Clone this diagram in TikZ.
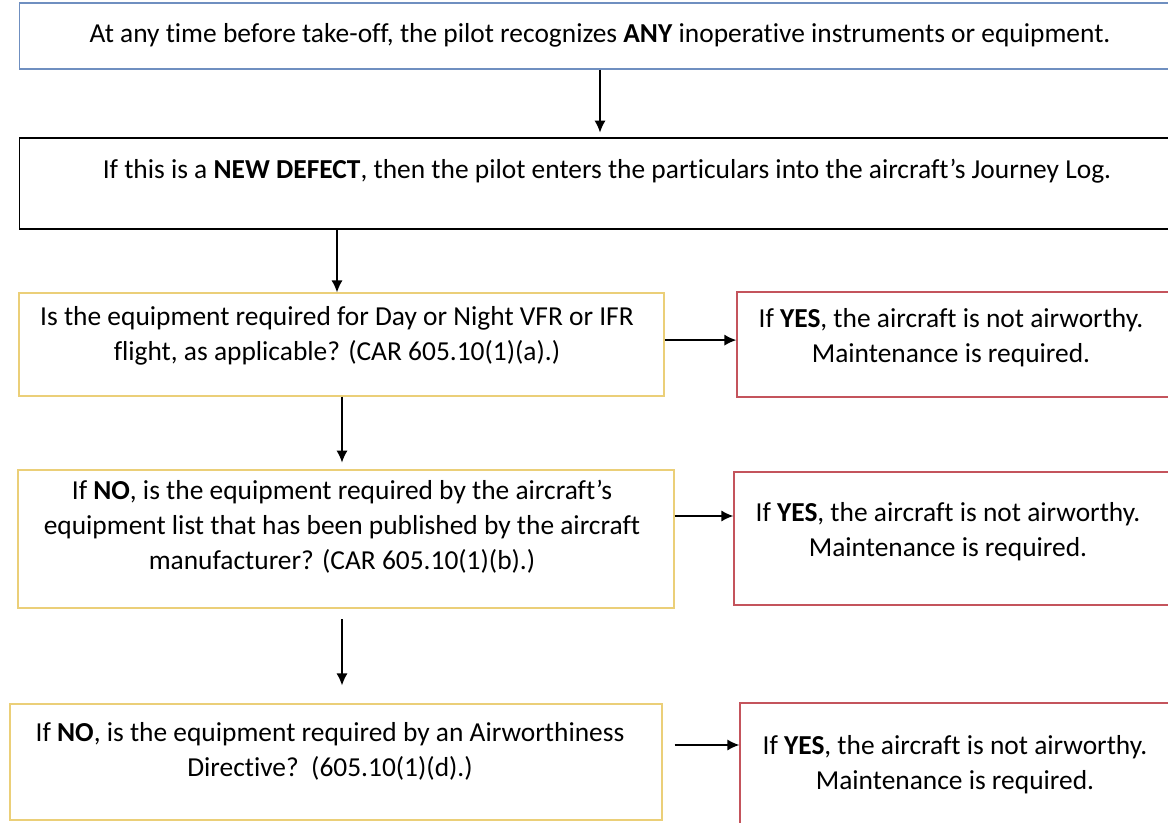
\documentclass[tikz,border=0pt]{standalone}
\usepackage{fontspec}
\setmainfont{Carlito}[Ligatures=NoCommon]
\usetikzlibrary{arrows.meta,positioning}
\definecolor{boxBlue}{HTML}{6F8FC0}
\definecolor{boxGold}{HTML}{EBCF78}
\definecolor{boxRed}{HTML}{C4545C}

\begin{document}
\begin{tikzpicture}[x=0.025cm,y=-0.025cm,>={Latex[length=3mm,width=2.8mm]},
  box/.style={draw,line width=0.9pt,inner sep=0pt},
  txt/.style={inner sep=0pt,align=center,font=\fontsize{19.5}{24.8}\selectfont},
  arr/.style={->,line width=1pt}]
  \useasboundingbox (0,0) rectangle (1168,822);

  % main column
  \node[box,draw=boxBlue,minimum width=29.25cm,minimum height=1.65cm] (start) at (605,36) {};
  \node[txt] (starttxt) at (600,35) {At any time before take-off, the pilot recognizes \textbf{ANY} inoperative instruments or equipment.};
  \node[box,draw=black,minimum width=29.25cm,minimum height=2.275cm] (defect) at (605,183.5) {};
  \node[txt] (defecttxt) at (607,171) {If this is a \textbf{NEW DEFECT}, then the pilot enters the particulars into the aircraft’s Journey Log.};

  \node[box,draw=boxGold,minimum width=16.125cm,minimum height=2.575cm] (q1) at (341.5,344.5) {};
  \node[txt] (q1txt) at (337,336) {Is the equipment required for Day or Night VFR or IFR\\flight, as applicable? (CAR 605.10(1)(a).)};
  \node[box,draw=boxGold,minimum width=16.4cm,minimum height=3.45cm] (q2) at (346,539) {};
  \node[txt] (q2txt) at (342,527) {If \textbf{NO}, is the equipment required by the aircraft’s\\equipment list that has been published by the aircraft\\manufacturer? (CAR 605.10(1)(b).)};
  \node[box,draw=boxGold,minimum width=16.3cm,minimum height=2.9cm] (q3) at (336,762) {};
  \node[txt] (q3txt) at (330,751) {If \textbf{NO}, is the equipment required by an Airworthiness\\Directive?\ \ (605.10(1)(d).)};

  % answers on the right
  \node[box,draw=boxRed,minimum width=11.325cm,minimum height=2.625cm] (yes1) at (963.5,344.5) {};
  \node[txt] (yes1txt) at (951,338) {If \textbf{YES}, the aircraft is not airworthy.\\Maintenance is required.};
  \node[box,draw=boxRed,minimum width=11.4cm,minimum height=3.325cm] (yes2) at (962,538.5) {};
  \node[txt] (yes2txt) at (948,532) {If \textbf{YES}, the aircraft is not airworthy.\\Maintenance is required.};
  \node[box,draw=boxRed,minimum width=11.25cm,minimum height=3.425cm] (yes3) at (965,771.5) {};
  \node[txt] (yes3txt) at (955,765) {If \textbf{YES}, the aircraft is not airworthy.\\Maintenance is required.};

  % connectors
  \draw[arr,shorten >=0.12cm] (start.south -| starttxt) -- (defect.north -| starttxt);
  \draw[arr] (defect.south -| q1txt) -- (q1.north -| q1txt);
  \draw[arr,shorten >=0.17cm] (q1.south -| q2txt) -- (q2.north -| q2txt);
  \draw[arr,shorten <=0.27cm,shorten >=0.45cm] (q2.south -| q2txt) -- (q3.north -| q2txt);
  \draw[arr] ([yshift=0.11cm]q1.east) -- ([yshift=0.11cm]q1.east -| yes1.west);
  \draw[arr] ([yshift=0.575cm]q2.east) -- ([yshift=0.575cm]q2.east -| yes2.west);
  \draw[arr,shorten <=0.3cm] ([yshift=0.425cm]q3.east) -- ([yshift=0.425cm]q3.east -| yes3.west);
\end{tikzpicture}
\end{document}
